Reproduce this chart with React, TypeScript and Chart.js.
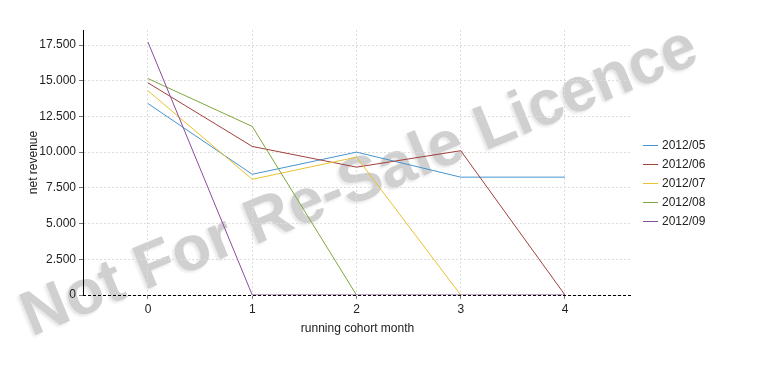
import React, { useEffect, useRef } from "react";
import { Chart, registerables } from "chart.js";

Chart.register(...registerables);

const months = [0, 1, 2, 3, 4];
const cohortLabels = ["2012/05", "2012/06", "2012/07", "2012/08", "2012/09"];
const rev201205 = [13400, 8450, 10000, 8250, 8250];
const rev201206 = [14850, 10400, 8950, 10100, 0];
const rev201207 = [14300, 8100, 9650, 0];
const rev201208 = [15150, 11800, 0];
const rev201209 = [17700, 0, 0, 0, 0];
const seriesValues = [rev201205, rev201206, rev201207, rev201208, rev201209];
const seriesColors = ["#4594cf", "#a3403a", "#e9c22c", "#7fa63e", "#8a4c9c"];
const yTicks = [0, 2500, 5000, 7500, 10000, 12500, 15000, 17500];
const xTicks = [0, 1, 2, 3, 4];
const watermarkText = "Not For Re-Sale Licence";

const FONT = "'Liberation Sans', Arial, sans-serif";

const fmt = (v: number) => {
  const s = Math.round(v).toString();
  return s.replace(/\B(?=(\d{3})+(?!\d))/g, ".");
};

const watermarkPlugin = {
  id: "watermark",
  beforeDraw(chart: any) {
    const ctx = chart.ctx;
    ctx.save();
    ctx.translate(360, 183);
    ctx.rotate((-22.3 * Math.PI) / 180);
    ctx.font = `bold 62px ${FONT}`;
    const w = ctx.measureText(watermarkText).width;
    const scale = 724 / w;
    ctx.font = `bold ${62 * scale}px ${FONT}`;
    ctx.textAlign = "center";
    ctx.textBaseline = "middle";
    ctx.shadowColor = "rgba(0,0,0,0.10)";
    ctx.shadowOffsetX = -2;
    ctx.shadowOffsetY = 2;
    ctx.shadowBlur = 3;
    ctx.fillStyle = "#d0d0d0";
    ctx.fillText(watermarkText, 0, 0);
    ctx.restore();
  },
};

const axisLinePlugin = {
  id: "xAxisLine",
  beforeDatasetsDraw(chart: any) {
    const ctx = chart.ctx;
    const area = chart.chartArea;
    ctx.save();
    ctx.strokeStyle = "#000";
    ctx.lineWidth = 1;
    ctx.setLineDash([3, 2]);
    ctx.beginPath();
    ctx.moveTo(area.left, Math.round(area.bottom) + 0.5);
    ctx.lineTo(area.right, Math.round(area.bottom) + 0.5);
    ctx.stroke();
    ctx.restore();
  },
};

const legendPlugin = {
  id: "customLegend",
  afterDraw(chart: any) {
    const ctx = chart.ctx;
    ctx.save();
    ctx.font = `12px ${FONT}`;
    ctx.textBaseline = "middle";
    ctx.textAlign = "left";
    chart.data.datasets.forEach((ds: any, i: number) => {
      const y = 145.5 + 19 * i;
      ctx.strokeStyle = seriesColors[i];
      ctx.lineWidth = 1;
      ctx.beginPath();
      ctx.moveTo(643, y);
      ctx.lineTo(658, y);
      ctx.stroke();
      ctx.fillStyle = "#222";
      ctx.fillText(ds.label, 662, y + 0.5);
    });
    ctx.restore();
  },
};

export default function App() {
  const ref = useRef<HTMLCanvasElement | null>(null);
  useEffect(() => {
    if (!ref.current) return;
    const chart = new Chart(ref.current, {
      type: "line",
      data: {
        datasets: seriesValues.map((vals, i) => ({
          label: cohortLabels[i],
          data: vals.map((v, j) => ({ x: months[j], y: v })),
          borderColor: seriesColors[i],
          backgroundColor: seriesColors[i],
          borderWidth: 1,
          pointRadius: 0,
          pointHoverRadius: 0,
          tension: 0,
          fill: false,
          order: -i,
        })),
      },
      options: {
        responsive: false,
        animation: false,
        events: [],
        layout: { padding: { top: 30, right: 133, left: 0, bottom: 0 } },
        plugins: { legend: { display: false }, tooltip: { enabled: false } },
        scales: {
          x: {
            type: "linear",
            min: -0.6235,
            max: 4.6427,
            afterBuildTicks: (s: any) => {
              s.ticks = xTicks.map((v) => ({ value: v }));
            },
            afterFit: (s: any) => {
              s.height = 78;
            },
            grid: {
              color: "#dcdcdc",
              tickColor: "#777",
              tickLength: 4,
              tickBorderDash: [],
            },
            border: { display: false, color: "#000", dash: [2, 2], width: 1 },
            ticks: {
              font: { family: FONT, size: 12 },
              color: "#222",
              padding: 3,
              maxRotation: 0,
              callback: (v: any) => String(v),
            },
            title: {
              display: true,
              text: "running cohort month",
              font: { family: FONT, size: 12 },
              color: "#222",
              padding: { top: 0, bottom: 37 },
            },
          },
          y: {
            type: "linear",
            min: 0,
            max: 18550,
            afterBuildTicks: (s: any) => {
              s.ticks = yTicks.map((v) => ({ value: v }));
            },
            afterFit: (s: any) => {
              s.width = 83;
            },
            grid: {
              color: "#dcdcdc",
              tickColor: "#777",
              tickLength: 4,
              tickBorderDash: [],
            },
            border: { display: true, color: "#000", dash: [2, 2], width: 1 },
            ticks: {
              font: { family: FONT, size: 12 },
              color: "#222",
              padding: 3,
              callback: (v: any) => fmt(Number(v)),
            },
            title: {
              display: true,
              text: "net revenue",
              font: { family: FONT, size: 12 },
              color: "#222",
              padding: { top: 26, bottom: 0 },
            },
          },
        },
      },
      plugins: [watermarkPlugin, axisLinePlugin, legendPlugin],
    } as any);
    return () => chart.destroy();
  }, []);
  return (
    <div style={{ position: "absolute", left: 0, top: 0, width: 765, height: 373 }}>
      <canvas ref={ref} width={765} height={373} />
    </div>
  );
}
